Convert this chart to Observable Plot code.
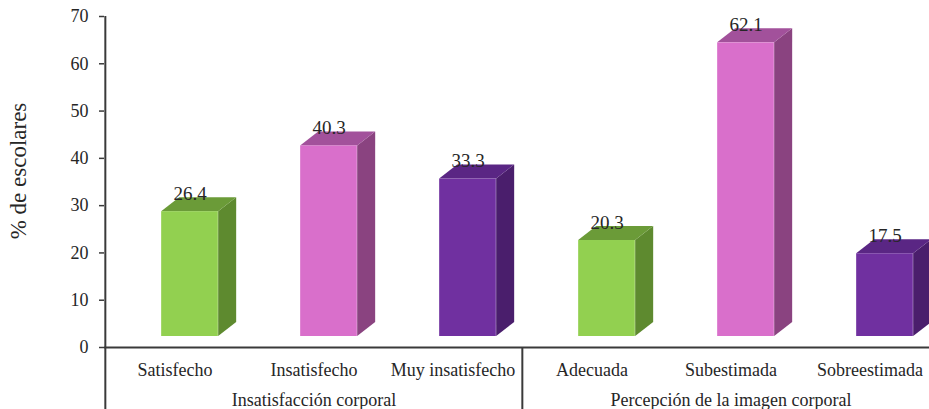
<!DOCTYPE html>
<html>
<head>
<meta charset="utf-8">
<script src="https://cdn.jsdelivr.net/npm/d3@7"></script>
<script src="https://cdn.jsdelivr.net/npm/@observablehq/plot@0.6"></script>
<style>
  html, body { margin: 0; padding: 0; background: #fff; }
  #chart svg { display: block; }
</style>
</head>
<body>
<div id="chart"></div>
<script>
// Categories, their group and the percentage of schoolchildren in each
const categories = ["Satisfecho", "Insatisfecho", "Muy insatisfecho", "Adecuada", "Subestimada", "Sobreestimada"];
const values = [26.4, 40.3, 33.3, 20.3, 62.1, 17.5];
const shade = [0, 1, 2, 0, 1, 2];
const groupNames = ["Insatisfacción corporal", "Percepción de la imagen corporal"];
const groupCenters = ["Insatisfecho", "Subestimada"];
const groupStarts = ["Satisfecho", "Adecuada"];
const yTicks = [0, 10, 20, 30, 40, 50, 60, 70];

// Face colours: front, top and side of each column
const frontColors = ["#92d050", "#d96fcb", "#7030a0"];
const topColors = ["#6b9b38", "#a2519b", "#5a2684"];
const sideColors = ["#5e8a2f", "#8a4380", "#4a1e6c"];

const rows = categories.map((cat, i) => ({cat, value: values[i], shade: shade[i]}));
const groups = groupNames.map((name, i) => ({name, mid: groupCenters[i]}));

// Layout of the pseudo-3D columns (pixels)
const xRange = [104, 940];
const bw = (xRange[1] - xRange[0]) / categories.length;
const faceW = 57;
const inset = (bw - faceW) / 2;
const offX = 15, offY = -11;     // front face shift
const depthX = 18, depthY = -14; // depth of the column
const yFloor = -13.3;            // value at the bottom edge of the svg

const font = "Liberation Serif";
const ink = "#262626";
const axisColor = "#3a3a3a";

// Top and side faces drawn with the plot's own scales
const depthFaces = Plot.barY(rows, {
  x: "cat", y: "value",
  render(index, scales) {
    const g = d3.create("svg:g");
    for (const i of index) {
      const d = rows[i];
      const xl = scales.x(d.cat) + inset + offX;
      const xr = xl + faceW;
      const yt = scales.y(d.value) + offY;
      const yb = scales.y(0) + offY;
      g.append("path")
        .attr("d", `M${xr},${yb}L${xr + depthX},${yb + depthY}L${xr + depthX},${yt + depthY}L${xr},${yt}Z`)
        .attr("fill", sideColors[d.shade]);
      g.append("path")
        .attr("d", `M${xl},${yt}L${xl + depthX},${yt + depthY}L${xr + depthX},${yt + depthY}L${xr},${yt}Z`)
        .attr("fill", topColors[d.shade]);
    }
    return g.node();
  }
});

const chart = Plot.plot({
  width: 929,
  height: 409,
  marginLeft: 104,
  marginRight: -11,
  marginTop: 16,
  marginBottom: 62,
  style: {background: "#fff", overflow: "hidden"},
  x: {domain: categories, range: xRange, padding: 0, label: null},
  y: {domain: [0, 70], range: [347, 16], label: null},
  marks: [
    depthFaces,
    Plot.barY(rows, {
      x: "cat", y: "value",
      fill: d => frontColors[d.shade],
      insetLeft: inset, insetRight: inset,
      dx: offX, dy: offY
    }),
    Plot.text(rows, {
      x: "cat", y: "value",
      text: d => d.value.toFixed(1),
      dx: offX, dy: offY + depthY + 2,
      lineAnchor: "bottom",
      fontSize: 19, fill: ink, fontFamily: font
    }),
    // axes
    Plot.axisY({
      ticks: yTicks, tickSize: 5, tickPadding: 11, tickFormat: d => d,
      fontSize: 18, stroke: axisColor, strokeWidth: 1.5, fill: ink, label: null, fontFamily: font
    }),
    Plot.axisX({tickSize: 0, tickPadding: 16, fontSize: 18, fill: ink, label: null, fontFamily: font}),
    Plot.ruleY([0], {stroke: axisColor, strokeWidth: 2}),
    // left axis line, running down through the category rows
    Plot.ruleX([groupStarts[0]], {
      x: d => d, y1: yFloor, y2: 70,
      dx: -bw / 2, stroke: axisColor, strokeWidth: 2
    }),
    // divider between the two groups
    Plot.ruleX([groupStarts[1]], {
      x: d => d, y1: yFloor, y2: 0,
      dx: -bw / 2, stroke: axisColor, strokeWidth: 2
    }),
    Plot.text(groups, {
      x: "mid", text: "name",
      frameAnchor: "bottom", dy: 58, lineAnchor: "bottom",
      fontSize: 18, fill: ink, fontFamily: font
    }),
    Plot.text(["% de escolares"], {
      frameAnchor: "left", textAnchor: "middle", rotate: -90,
      dx: -86, dy: -11,
      fontSize: 23, fill: ink, fontFamily: font
    })
  ]
});

document.getElementById("chart").append(chart);
</script>
</body>
</html>
